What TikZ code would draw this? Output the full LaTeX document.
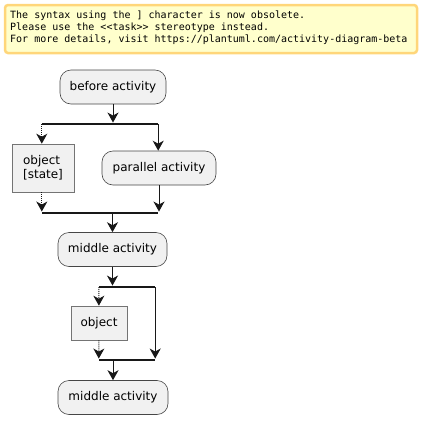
\documentclass[tikz,border=0pt]{standalone}
\usepackage{fontspec}
\setmainfont{DejaVu Sans}
\newfontfamily\notefont{DejaVu Sans Mono}
\usetikzlibrary{positioning,arrows.meta}
\definecolor{ink}{HTML}{181818}
\definecolor{boxfill}{HTML}{F1F1F1}
\definecolor{notefill}{HTML}{FFFFCC}
\definecolor{noteline}{HTML}{FFD67A}
\begin{document}
\begin{tikzpicture}[x=1pt,y=-1pt,every node/.style={font=\fontsize{12}{14}\selectfont},act/.style={draw=ink!80,line width=.6pt,fill=boxfill,rounded corners=11pt,minimum height=34pt,inner sep=0pt},obj/.style={draw=ink!60,line width=.6pt,fill=boxfill,minimum height=34pt,inner sep=0pt,align=left},bar/.style={fill=ink,inner sep=0pt,minimum height=2.5pt},flow/.style={-{Stealth[length=10pt,width=11pt,inset=3pt]},ink,line width=1pt},dotflow/.style={flow,densely dotted}]
\useasboundingbox (0,0) rectangle (422,424);
\node[draw=noteline,line width=2.5pt,fill=notefill,rounded corners=3pt,minimum width=412pt,minimum height=48pt,inner sep=0pt] (note) at (211,29){};
\node[anchor=north west,inner sep=0pt,align=left,font=\notefont\fontsize{10}{11.7}\selectfont] (notetext) at (10,11){The syntax using the ] character is now obsolete.\\Please use the <{}<task>{}> stereotype instead.\\For more details, visit https://plantuml.com/activity-diagram-beta};
\node[act,minimum width=106pt] (before) at (113,87){before activity};
\node[bar,minimum width=116pt] (fork1) at (100,124){};
\node[obj,minimum width=62pt,minimum height=48pt] (objstate) at (43,168){object\\{}[state]};
\node[act,minimum width=114pt] (parallel) at (159,168){parallel activity};
\node[bar,minimum width=116pt] (join1) at (100,213){};
\node[act,minimum width=109pt] (middle) at (112.5,249.5){middle activity};
\node[bar,minimum width=56pt] (fork2) at (127,287){};
\node[obj,minimum width=56pt] (object) at (99,323){object};
\node[bar,minimum width=56pt] (join2) at (127,360){};
\node[act,minimum width=110pt] (middle2) at (113,397.5){middle activity};
\draw[flow](before)--(before |- fork1.north);
\draw[dotflow](fork1.west)--(fork1.west |- objstate.north);\draw[flow](fork1.east)--(fork1.east |- parallel.north);
\draw[dotflow](fork1.west |- objstate.south)--(join1.north west);\draw[flow](parallel)--(parallel |- join1.north);
\draw[flow](middle |- join1.south)--(middle);
\draw[flow](middle)--(middle |- fork2.north);
\draw[dotflow](fork2.west)--(object);\draw[flow](fork2.east)--(join2.north east);
\draw[dotflow](object)--(join2.north west);
\draw[flow](middle2 |- join2.south)--(middle2);
\end{tikzpicture}
\end{document}
